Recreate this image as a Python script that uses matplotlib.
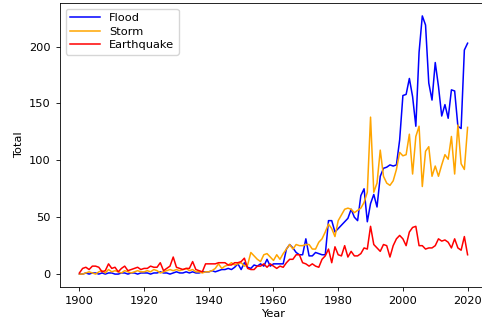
import matplotlib
matplotlib.use("Agg")
import matplotlib.pyplot as plt
import numpy as np

years = list(range(1900, 2021))

flood = [0, 0, 1, 0, 1, 1, 0, 1, 0, 1, 1, 0, 0, 1, 1, 0, 1, 1, 0, 1,
         1, 1, 0, 1, 1, 2, 1, 1, 0, 1, 2, 1, 1, 2, 1, 2, 1, 1, 2, 2,
         2, 3, 2, 3, 4, 4, 5, 4, 6, 9, 4, 10, 6, 5, 8, 7, 9, 7, 13, 7,
         9, 9, 9, 9, 22, 26, 23, 19, 17, 17, 31, 16, 16, 19, 18, 17, 17, 47, 47, 37,
         40, 43, 46, 49, 57, 50, 47, 69, 75, 46, 62, 70, 59, 86, 93, 94, 96, 95, 96, 118,
         157, 158, 172, 156, 130, 195, 227, 219, 168, 153, 186, 165, 139, 149, 137, 162, 161, 130, 128, 197,
         203]

storm = [0, 0, 1, 2, 1, 0, 2, 3, 1, 4, 2, 3, 2, 1, 3, 2, 1, 2, 3, 2,
         2, 3, 2, 4, 3, 1, 2, 3, 4, 3, 4, 3, 4, 5, 3, 4, 2, 2, 1, 2,
         2, 3, 5, 9, 5, 7, 8, 10, 8, 9, 10, 7, 8, 19, 16, 13, 11, 17, 18, 15,
         12, 17, 13, 18, 22, 26, 22, 26, 25, 25, 26, 26, 22, 22, 28, 31, 37, 44, 40, 33,
         47, 52, 57, 58, 57, 54, 56, 58, 63, 72, 138, 72, 80, 109, 86, 80, 78, 82, 92, 107,
         104, 105, 123, 88, 121, 130, 77, 108, 112, 86, 95, 86, 96, 105, 101, 121, 88, 131, 97, 92,
         129]

earthquake = [1, 5, 6, 4, 7, 7, 6, 2, 3, 9, 5, 6, 2, 5, 7, 3, 4, 5, 6, 4,
              5, 5, 7, 6, 6, 10, 3, 5, 7, 15, 6, 5, 4, 5, 5, 11, 4, 3, 2, 9,
              9, 9, 9, 10, 10, 10, 8, 8, 10, 10, 11, 14, 5, 4, 4, 7, 7, 9, 6, 9,
              7, 5, 7, 6, 10, 13, 13, 17, 17, 10, 9, 7, 9, 7, 6, 13, 16, 22, 10, 24,
              17, 16, 25, 15, 20, 16, 16, 18, 23, 22, 42, 26, 23, 20, 26, 25, 15, 25, 31, 34,
              31, 25, 37, 41, 42, 25, 25, 22, 23, 23, 25, 31, 29, 30, 28, 23, 31, 23, 21, 33,
              17]

fs = 8.2
fig = plt.figure(figsize=(4.82, 3.2), dpi=100)
ax = fig.add_axes([60/482, 33/320, 427/482, 284/320])
ax.plot(years, flood, color="blue", lw=1.1, label="Flood")
ax.plot(years, storm, color="orange", lw=1.1, label="Storm")
ax.plot(years, earthquake, color="red", lw=1.1, label="Earthquake")
ax.set_xticks([1900, 1920, 1940, 1960, 1980, 2000, 2020])
ax.set_yticks([0, 50, 100, 150, 200])
ax.tick_params(labelsize=fs, length=3, width=0.6)
for s in ax.spines.values():
    s.set_linewidth(0.6)
ax.set_xlabel("Year", fontsize=fs, labelpad=2)
ax.set_ylabel("Total", fontsize=fs, labelpad=4)
ax.legend(loc="upper left", fontsize=fs, handlelength=2.6, borderpad=0.4,
          labelspacing=0.3, framealpha=0.8)
fig.savefig("out.png", dpi=100)
